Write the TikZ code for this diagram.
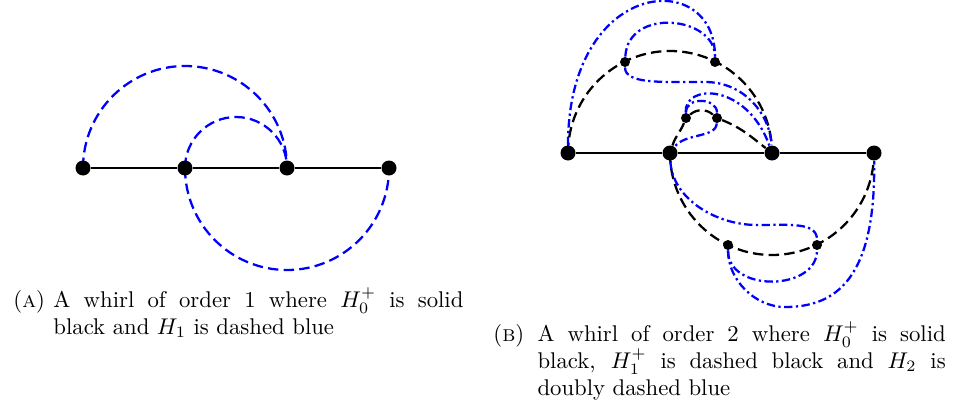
\documentclass[tikz,border=0pt]{standalone}
\usetikzlibrary{backgrounds}
\begin{document}
\begin{tikzpicture}[x=0.44pt,y=0.44pt,
  big/.style={circle,fill=black,inner sep=0pt,minimum size=6.6pt},
  small/.style={circle,fill=black,inner sep=0pt,minimum size=4.4pt},
  hzero/.style={line width=1.2pt,black},
  honea/.style={line width=1pt,blue,dash pattern=on 4.6pt off 2.3pt},
  honeb/.style={line width=1pt,black,dash pattern=on 4.6pt off 2.3pt},
  htwo/.style={line width=1pt,blue,dash pattern=on 3.7pt off 1.5pt on 1pt off 1.5pt},
  capt/.style={anchor=base west,inner sep=0pt}]
\useasboundingbox (0,0) rectangle (956,-414);
% ---------- (a) ----------
\node[big] (A1) at (83,-168) {};
\node[big] (A2) at (185,-168) {};
\node[big] (A3) at (287,-168) {};
\node[big] (A4) at (389,-168) {};
% ---------- (b) ----------
\node[big] (B1) at (568,-153) {};
\node[big] (B2) at (670,-153) {};
\node[big] (B3) at (772,-153) {};
\node[big] (B4) at (874,-153) {};
\node[small] (u1) at (625,-62) {};
\node[small] (u2) at (715,-62) {};
\node[small] (i1) at (686,-118) {};
\node[small] (i2) at (717,-118) {};
\node[small] (l1) at (728,-245) {};
\node[small] (l2) at (817,-245) {};
\coordinate (w3) at (705,-82);
\coordinate (w6) at (757,-225);
\coordinate (w8) at (785,-307);
\begin{scope}[on background layer]
  % (a)
  \draw[hzero] (A1) -- (A2) -- (A3) -- (A4);
  \draw[honea] (A1.center) arc[start angle=180,end angle=0,radius=102];
  \draw[honea] (A2.center) arc[start angle=180,end angle=0,radius=51];
  \draw[honea] (A2.center) arc[start angle=180,end angle=360,radius=102];
  % (b) H0+
  \draw[hzero] (B1) -- (B2) -- (B3) -- (B4);
  % (b) H1+
  \draw[honeb] (B1.center) arc[start angle=180,end angle=0,radius=102];
  \draw[honeb] (B2.center) arc[start angle=180,end angle=360,radius=102];
  \draw[honeb] (B2) to[out=72,in=-112] (i1) to[out=40,in=140] (i2) to[out=-22,in=142] (B3);
  % (b) H2
  \draw[htwo] (B1) .. controls +(0,175) and +(0,95) .. (u2);
  \draw[htwo] (u1) .. controls +(3,55) and +(0,46) .. (u2);
  \draw[htwo] (u1) .. controls +(0,-22) and +(-45,0) .. (w3) .. controls +(40,0) and +(-2,38) .. (B3);
  \draw[htwo] (i1) .. controls +(-2,35) and +(-25,70) .. (B3);
  \draw[htwo] (i1) .. controls +(0,22) and +(0,20) .. (i2);
  \draw[htwo] (i2) .. controls +(-1,-20) and +(15,20) .. (B2);
  \draw[htwo] (B2) .. controls +(2,-45) and +(-42,0) .. (w6) .. controls +(33,0) and +(0,23) .. (l2);
  \draw[htwo] (l1) .. controls +(0,-48) and +(0,-46) .. (l2);
  \draw[htwo] (l1) .. controls +(0,-35) and +(-30,0) .. (w8) .. controls +(50,0) and +(2,-127) .. (B4);
\end{scope}
% ---------- captions ----------
\node[capt] (capA) at (13,-307) {\parbox[t]{198pt}{\tolerance=10000\hangindent=17.6pt\hangafter=1
  \makebox[17.6pt][l]{(\textsc{a})}A whirl of order 1 where $H_0^+$ is solid\linebreak black and $H_1$ is dashed blue}};
\node[capt] (capB) at (493,-341) {\parbox[t]{199pt}{\tolerance=10000\hangindent=19.4pt\hangafter=1
  \makebox[19.4pt][l]{(\textsc{b})}A whirl of order 2 where $H_0^+$ is solid\linebreak black, $H_1^+$ is dashed black and $H_2$ is\linebreak doubly dashed blue}};
\end{tikzpicture}
\end{document}
